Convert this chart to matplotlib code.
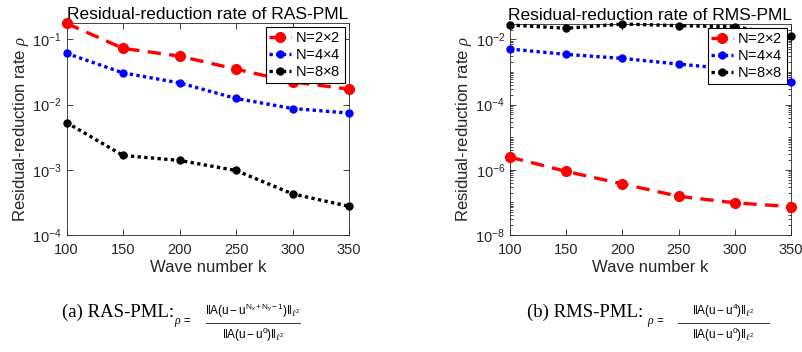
import numpy as np
import matplotlib
matplotlib.use("Agg")
import matplotlib.pyplot as plt
from matplotlib.lines import Line2D
from matplotlib.ticker import FixedLocator, NullLocator, LogLocator, NullFormatter

plt.rcParams['font.family'] = ['Liberation Sans', 'DejaVu Sans']
plt.rcParams['mathtext.fontset'] = 'custom'
plt.rcParams['mathtext.rm'] = 'Liberation Sans'
plt.rcParams['mathtext.it'] = 'Liberation Serif:italic'

# wave numbers
k = [100, 150, 200, 250, 300, 350]
labels = ['N=2$\\times$2', 'N=4$\\times$4', 'N=8$\\times$8']

# RAS-PML residual-reduction rate
ras_2x2 = [0.176, 0.0727, 0.0553, 0.0349, 0.0223, 0.0172]
ras_4x4 = [0.061, 0.0306, 0.0215, 0.0124, 0.0087, 0.0074]
ras_8x8 = [0.0053, 0.00166, 0.00139, 0.000975, 0.000427, 0.000275]

# RMS-PML residual-reduction rate
rms_2x2 = [2.44e-6, 8.9e-7, 3.7e-7, 1.54e-7, 9.7e-8, 7.4e-8]
rms_4x4 = [0.00504, 0.00345, 0.0026, 0.00174, 0.0012, 0.000495]
rms_8x8 = [0.0275, 0.0218, 0.0295, 0.0262, 0.0244, 0.0126]

gray = '#262626'

fig = plt.figure(figsize=(8.02, 3.52), dpi=100)
W, H = 802, 352


def make_axes(x0, x1, y0, y1):
    return fig.add_axes([x0 / W, 1 - y1 / H, (x1 - x0) / W, (y1 - y0) / H])


def draw(ax, s1, s2, s3, title, ylim, yticks, minor):
    ax.plot(k, s1, color='red', ls=(0, (4, 2.5)), lw=2.4, marker='o', ms=7,
            label=labels[0], clip_on=False, zorder=3)
    ax.plot(k, s2, color='blue', ls=(0, (1, 1)), lw=2.4, marker='o', ms=5,
            label=labels[1], clip_on=False, zorder=3)
    ax.plot(k, s3, color='black', ls=(0, (1, 1)), lw=2.4, marker='o', ms=5,
            label=labels[2], clip_on=False, zorder=3)
    ax.set_yscale('log')
    ax.set_xlim(100, 350)
    ax.set_ylim(*ylim)
    ax.set_xticks(k)
    ax.yaxis.set_major_locator(FixedLocator(yticks))
    if minor:
        ax.yaxis.set_minor_locator(LogLocator(base=10, subs=np.arange(1, 10), numticks=30))
    else:
        ax.yaxis.set_minor_locator(NullLocator())
    ax.yaxis.set_minor_formatter(NullFormatter())
    ax.tick_params(which='both', direction='in', top=True, right=True,
                   labelsize=10.5, colors=gray, labelcolor=gray, width=0.6)
    ax.tick_params(which='major', length=4)
    ax.tick_params(which='minor', length=2)
    ax.tick_params(axis='x', pad=6)
    for sp in ax.spines.values():
        sp.set_color(gray)
        sp.set_linewidth(0.6)
    ax.set_title(title, fontsize=12.5, color='black', pad=3)
    ax.set_xlabel('Wave number k', fontsize=12, color=gray, labelpad=2)
    ax.set_ylabel('Residual-reduction rate $\\rho$', fontsize=12, color=gray, labelpad=1)
    leg = ax.legend(loc='upper right', fontsize=10.5, numpoints=1, handlelength=1.5,
                    handletextpad=0.3, borderpad=0.25, labelspacing=0.2,
                    borderaxespad=0.3, fancybox=False, framealpha=1)
    leg.get_frame().set_edgecolor('black')
    leg.get_frame().set_linewidth(0.8)


ax1 = make_axes(66.5, 349, 23, 235)
draw(ax1, ras_2x2, ras_4x4, ras_8x8, 'Residual-reduction rate of RAS-PML',
     (1e-4, 0.178), [1e-4, 1e-3, 1e-2, 1e-1], False)

ax2 = make_axes(510, 791, 24, 235)
draw(ax2, rms_2x2, rms_4x4, rms_8x8, 'Residual-reduction rate of RMS-PML',
     (1e-8, 0.0295), [1e-8, 1e-6, 1e-4, 1e-2], True)

# captions
serif = ['Liberation Serif', 'DejaVu Serif']


def caption(x_lab, lab, x_rho, x0, x1, num, den):
    yl = 322.5
    fig.text(x_lab / W, 1 - 317 / H, lab, fontsize=13.5, family=serif,
             va='baseline', ha='left')
    fig.text(x_rho / W, 1 - 324 / H, r'$\rho$ =', fontsize=8.5,
             va='baseline', ha='left')
    fig.add_artist(Line2D([x0 / W, x1 / W], [1 - yl / H, 1 - yl / H],
                          transform=fig.transFigure, color='#333333', lw=0.7))
    xc = (x0 + x1) / 2 / W
    fig.text(xc, 1 - (yl - 2) / H, num, fontsize=8.5, va='bottom', ha='center')
    fig.text(xc, 1 - (yl + 3) / H, den, fontsize=8.5, va='top', ha='center')


caption(62, '(a) RAS-PML:', 174, 206, 300,
        r'$\|\mathrm{A(u-u^{N_x+N_y-1})}\|_{\ell^2}$',
        r'$\|\mathrm{A(u-u^{0})}\|_{\ell^2}$')
caption(527, '(b) RMS-PML:', 647, 678, 769,
        r'$\|\mathrm{A(u-u^{4})}\|_{\ell^2}$',
        r'$\|\mathrm{A(u-u^{0})}\|_{\ell^2}$')

fig.savefig('out.png', dpi=100)
